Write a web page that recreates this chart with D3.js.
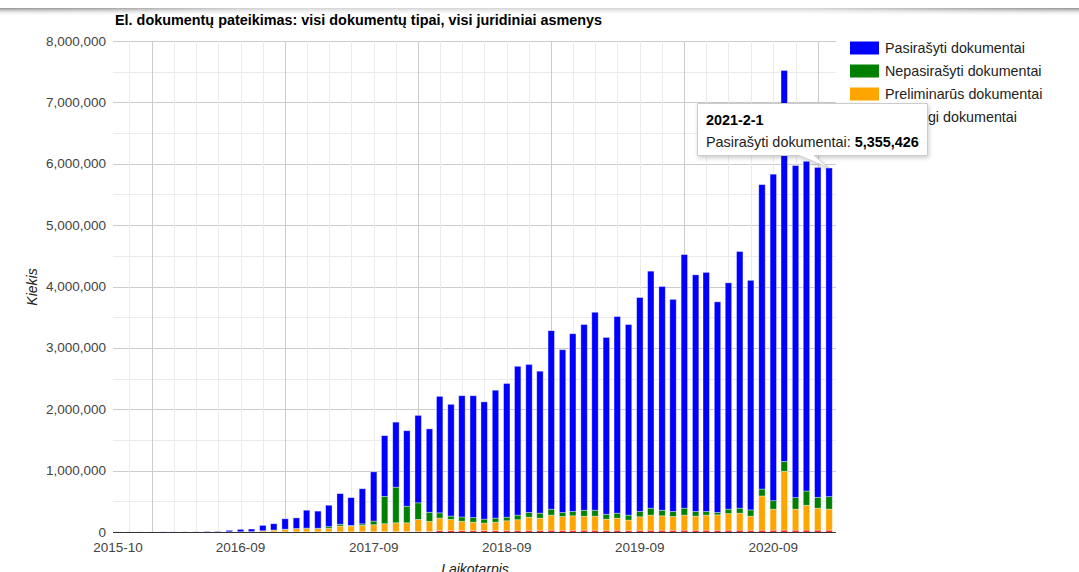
<!DOCTYPE html>
<html>
<head>
<meta charset="utf-8">
<script src="https://cdn.jsdelivr.net/npm/d3@7"></script>
<style>
  body { margin: 0; background: #fff; }
  svg { display: block; font-family: Arial, "Liberation Sans", sans-serif; }
</style>
</head>
<body>
<svg></svg>
<script>
// months: 2015-10 .. 2021-02
var months = d3.timeMonth.range(new Date(2015, 9, 1), new Date(2021, 2, 1));
var xTickLabels = ["2015-10", "2016-09", "2017-09", "2018-09", "2019-09", "2020-09"];
var yTicks = [0, 1000000, 2000000, 3000000, 4000000, 5000000, 6000000, 7000000, 8000000];

var seriesNames = ["Pasirašyti dokumentai", "Nepasirašyti dokumentai", "Preliminarūs dokumentai", "Klaidingi dokumentai"];

var signed = [1000, 1000, 1000, 1000, 1500, 1500, 2000, 2000, 7000, 7000,
  24000, 39000, 42000, 88000, 103000, 169000, 172000, 291000, 278000, 349000,
  498000, 453000, 572000, 802000, 990000, 1060000, 1230000, 1425000, 1358000, 1898000,
  1820000, 1975000, 1985000, 1910000, 2084000, 2178000, 2425000, 2412000, 2313000, 2908000,
  2652000, 2896000, 3025000, 3225000, 2880000, 3203000, 3105000, 3486000, 3862000, 3645000,
  3456000, 4132000, 3856000, 3896000, 3432000, 3688000, 4182000, 3740000, 4960000, 5320000,
  6370000, 5410000, 5372000, 5375000, 5355426];

var unsigned = [0, 0, 0, 0, 0, 0, 0, 0, 0, 0,
  0, 0, 0, 0, 2000, 3000, 4000, 10000, 8000, 27000,
  30000, 10000, 25000, 60000, 445000, 580000, 270000, 270000, 150000, 86000,
  55000, 70000, 75000, 65000, 66000, 59000, 75000, 76000, 81000, 97000,
  65000, 70000, 97000, 97000, 80000, 81000, 81000, 86000, 113000, 91000,
  81000, 113000, 76000, 59000, 38000, 72000, 81000, 102000, 113000, 138000,
  160000, 188000, 232000, 177000, 204000];

var preliminary = [0, 0, 0, 0, 0, 0, 0, 0, 1000, 1500,
  3000, 4000, 6000, 18000, 28000, 40000, 51000, 51000, 51000, 56000,
  93000, 93000, 103000, 113000, 129000, 144000, 143000, 197000, 162000, 201000,
  180000, 150000, 134000, 120000, 134000, 156000, 172000, 214000, 199000, 246000,
  225000, 236000, 229000, 229000, 183000, 198000, 168000, 220000, 246000, 235000,
  225000, 246000, 230000, 246000, 252000, 271000, 277000, 230000, 557000, 342000,
  959000, 342000, 405000, 358000, 342000];

var wrong = [0, 0, 0, 0, 0, 0, 0, 0, 0, 0,
  0, 0, 0, 2000, 2000, 3000, 3000, 3000, 3000, 4000,
  4000, 4000, 5000, 5000, 6000, 6000, 7000, 8000, 10000, 25000,
  25000, 25000, 26000, 25000, 26000, 27000, 28000, 28000, 27000, 29000,
  28000, 28000, 29000, 29000, 27000, 28000, 26000, 28000, 29000, 29000,
  28000, 29000, 28000, 29000, 28000, 29000, 30000, 28000, 30000, 30000,
  31000, 30000, 31000, 30000, 30000];

var colors = {wrong: "#ff0000", preliminary: "#ffa500", unsigned: "#008000", signed: "#0000ff"};

var viewWidth = 1079, viewHeight = 572;
var plot = {left: 113, right: 836, top: 41, bottom: 532};

var svg = d3.select("svg")
    .attr("width", viewWidth)
    .attr("height", viewHeight);

var defs = svg.append("defs");

// top shadow strip
var vg = defs.append("linearGradient").attr("id", "vshade").attr("x1", 0).attr("y1", 0).attr("x2", 0).attr("y2", 1);
vg.append("stop").attr("offset", "0%").attr("stop-color", "#8a8a8a").attr("stop-opacity", 0.95);
vg.append("stop").attr("offset", "100%").attr("stop-color", "#ffffff").attr("stop-opacity", 0);
var hg = defs.append("linearGradient").attr("id", "hfade").attr("x1", 0).attr("y1", 0).attr("x2", 1).attr("y2", 0);
hg.append("stop").attr("offset", "0%").attr("stop-color", "#fff").attr("stop-opacity", 0);
hg.append("stop").attr("offset", "9%").attr("stop-color", "#fff").attr("stop-opacity", 0.1);
hg.append("stop").attr("offset", "25%").attr("stop-color", "#fff").attr("stop-opacity", 0.6);
hg.append("stop").attr("offset", "75%").attr("stop-color", "#fff").attr("stop-opacity", 0.6);
hg.append("stop").attr("offset", "92%").attr("stop-color", "#fff").attr("stop-opacity", 0.1);
hg.append("stop").attr("offset", "100%").attr("stop-color", "#fff").attr("stop-opacity", 0);

var shadow = defs.append("filter").attr("id", "tipShadow")
    .attr("x", "-10%").attr("y", "-20%").attr("width", "130%").attr("height", "160%");
shadow.append("feDropShadow").attr("dx", 1).attr("dy", 2).attr("stdDeviation", 2)
    .attr("flood-color", "#000").attr("flood-opacity", 0.2);

svg.append("rect").attr("x", 0).attr("y", 8).attr("width", viewWidth).attr("height", 8).style("fill", "url(#vshade)");
svg.append("rect").attr("x", 0).attr("y", 8).attr("width", viewWidth).attr("height", 8).style("fill", "url(#hfade)");

// scales
var x = d3.scaleTime()
    .domain([new Date(2015, 8, 17), new Date(2021, 1, 20)])
    .range([plot.left, plot.right]);

var y = d3.scaleLinear()
    .domain([0, 8000000])
    .range([plot.bottom, plot.top]);

// gridlines
var grid = svg.append("g");
var hLines = d3.range(0, 8000001, 500000);
grid.selectAll(".hgrid")
    .data(hLines)
    .enter()
    .append("line")
      .attr("x1", plot.left).attr("x2", plot.right)
      .attr("y1", function(d) { return Math.round(y(d)) + 0.5; })
      .attr("y2", function(d) { return Math.round(y(d)) + 0.5; })
      .style("stroke", function(d) { return d % 1000000 === 0 ? "#cccccc" : "#ebebeb"; });

var vLines = d3.timeMonth.range(new Date(2015, 10, 1), new Date(2021, 1, 2), 2);
grid.selectAll(".vgrid")
    .data(vLines)
    .enter()
    .append("line")
      .attr("x1", function(d) { return Math.round(x(d)) + 0.5; })
      .attr("x2", function(d) { return Math.round(x(d)) + 0.5; })
      .attr("y1", plot.top).attr("y2", plot.bottom)
      .style("stroke", function(d) { return d.getMonth() === 0 ? "#cccccc" : "#ebebeb"; });

// stacked bars
var table = months.map(function(m, i) {
  return {date: m, wrong: wrong[i], preliminary: preliminary[i], unsigned: unsigned[i], signed: signed[i]};
});
var keys = ["wrong", "preliminary", "unsigned", "signed"];
var stackedData = d3.stack().keys(keys)(table);

var barWidth = 6.4;
svg.append("g")
  .selectAll("g")
  .data(stackedData)
  .enter()
  .append("g")
    .style("fill", function(d) { return colors[d.key]; })
  .selectAll("rect")
  .data(function(d) { return d; })
  .enter()
  .append("rect")
    .attr("x", function(d) { return x(d.data.date) - barWidth / 2; })
    .attr("width", barWidth)
    .attr("y", function(d) { return y(d[1]); })
    .attr("height", function(d) { return Math.max(0, y(d[0]) - y(d[1])); })
    .style("stroke", "#ffffff")
    .style("stroke-width", 0.8)
    .style("stroke-opacity", 0.45);

// baseline
svg.append("line")
    .attr("x1", plot.left).attr("x2", plot.right)
    .attr("y1", y(0) + 0.5).attr("y2", y(0) + 0.5)
    .style("stroke", "#333333");

// axis labels
svg.append("g")
  .selectAll("text")
  .data(yTicks)
  .enter()
  .append("text")
    .attr("x", 106)
    .attr("y", function(d) { return y(d) + 4.5; })
    .attr("text-anchor", "end")
    .style("font-size", "13.5px")
    .style("fill", "#444444")
    .text(function(d) { return d3.format(",")(d); });

var parseMonth = d3.timeParse("%Y-%m");
svg.append("g")
  .selectAll("text")
  .data(xTickLabels)
  .enter()
  .append("text")
    .attr("x", function(d) { return x(parseMonth(d)); })
    .attr("y", 552)
    .attr("text-anchor", "middle")
    .style("font-size", "13.5px")
    .style("fill", "#444444")
    .text(function(d) { return d; });

// titles
svg.append("text")
    .attr("x", 115)
    .attr("y", 25)
    .style("font-size", "14.4px")
    .style("font-weight", "bold")
    .style("fill", "#000")
    .text("El. dokumentų pateikimas: visi dokumentų tipai, visi juridiniai asmenys");

svg.append("text")
    .attr("transform", "translate(37,287) rotate(-90)")
    .attr("text-anchor", "middle")
    .style("font-size", "14px")
    .style("font-style", "italic")
    .style("fill", "#222")
    .text("Kiekis");

svg.append("text")
    .attr("x", 475)
    .attr("y", 574)
    .attr("text-anchor", "middle")
    .style("font-size", "14px")
    .style("font-style", "italic")
    .style("fill", "#222")
    .text("Laikotarpis");

// legend
var legendKeys = ["signed", "unsigned", "preliminary", "wrong"];
var legend = svg.append("g");
legend.selectAll("rect")
  .data(legendKeys)
  .enter()
  .append("rect")
    .attr("x", 850)
    .attr("y", function(d, i) { return 41.5 + i * 23; })
    .attr("width", 29)
    .attr("height", 13)
    .style("fill", function(d) { return colors[d]; });
legend.selectAll("text")
  .data(seriesNames)
  .enter()
  .append("text")
    .attr("x", 885)
    .attr("y", function(d, i) { return 53 + i * 23; })
    .style("font-size", "14.3px")
    .style("fill", "#222")
    .text(function(d) { return d; });

// tooltip for 2021-02
var last = table[table.length - 1];
var tipX = x(last.date), tipY = y(last.wrong + last.preliminary + last.unsigned + last.signed);
var tip = svg.append("g");
tip.append("path")
    .attr("d", "M697.5,103.5 H927.5 V155.5 H" + (tipX - 15) + " L" + tipX + "," + tipY + " L" + (tipX - 30) + ",155.5 H697.5 Z")
    .style("fill", "#ffffff")
    .style("stroke", "#cccccc")
    .style("filter", "url(#tipShadow)");
tip.append("text")
    .attr("x", 706)
    .attr("y", 125)
    .style("font-size", "14.4px")
    .style("font-weight", "bold")
    .style("fill", "#000")
    .text(d3.timeFormat("%Y-%-m-%-d")(last.date));
var t2 = tip.append("text")
    .attr("x", 706)
    .attr("y", 147)
    .style("font-size", "14.4px")
    .style("fill", "#222");
t2.append("tspan").text(seriesNames[0] + ": ");
t2.append("tspan").style("font-weight", "bold").style("fill", "#000").text(d3.format(",")(last.signed));
</script>
</body>
</html>
